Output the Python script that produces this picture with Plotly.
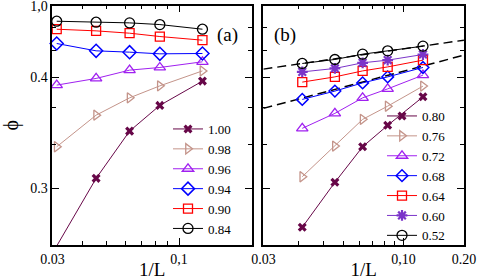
import math
import plotly.graph_objects as go

# ---------------- data ----------------
inv_L = [1/32, 1/22, 1/16, 1/12, 1/8]

left_labels = ["1.00", "0.98", "0.96", "0.94", "0.90", "0.84"]
left_values = [
    [0.2480, 0.3090, 0.3516, 0.3748, 0.3967],
    [0.3375, 0.3660, 0.3816, 0.3924, 0.4059],
    [0.3931, 0.3991, 0.4066, 0.4090, 0.4141],
    [0.4306, 0.4240, 0.4228, 0.4213, 0.4216],
    [0.4435, 0.4420, 0.4399, 0.4369, 0.4336],
    [0.4507, 0.4498, 0.4492, 0.4477, 0.4435],
]

right_labels = ["0.80", "0.76", "0.72", "0.68", "0.64", "0.60", "0.52"]
right_values = [
    [0.2649, 0.3054, 0.3375, 0.3568, 0.3825],
    [0.3105, 0.3381, 0.3622, 0.3741, 0.3922],
    [0.3541, 0.3676, 0.3816, 0.3897, 0.4021],
    [0.3802, 0.3877, 0.3951, 0.4005, 0.4090],
    [0.3958, 0.4005, 0.4059, 0.4095, 0.4156],
    [0.4050, 0.4081, 0.4132, 0.4156, 0.4207],
    [0.4126, 0.4162, 0.4210, 0.4240, 0.4282],
]

# dashed fit lines (right panel)
fit_x = [0.02, 0.2]
fit_upper = [0.4075, 0.4336]
fit_lower = [0.3721, 0.4201]

# axis ticks
y_major_vals = [0.4645, 0.4, 0.3]
y_major_text = ["1,0", "0.4", "0.3"]
y_minor_vals = [0.4450, 0.4240, 0.3726, 0.3396]
y_range = [0.2489, 0.4647]

xl_major_vals = [0.03, 0.1]
xl_major_text = ["0.03", "0,1"]
xl_minor_vals = [0.04, 0.05, 0.06, 0.07, 0.08, 0.09]
xl_range = [0.03, 0.2]

xr_major_vals = [0.02, 0.1, 0.2]
xr_major_text = ["0.03", "0,10", "0.20"]
xr_minor_vals = [0.03, 0.04, 0.05, 0.06, 0.07, 0.08, 0.09]
xr_range = [0.02, 0.2]

# ---------------- styles ----------------
MAROON = "#670748"
ROSY = "#c4948a"
VIOLET = "#a020f0"
BLUE = "#0000ff"
RED = "#ff0000"
BLACK = "#000000"
STAR = "#7b35c9"

left_styles = [
    (MAROON, "x", 8, 0),
    (ROSY, "triangle-right-open", 9, 1.3),
    (VIOLET, "triangle-up-open", 10, 1.3),
    (BLUE, "diamond-open", 10, 1.5),
    (RED, "square-open", 9, 1.3),
    (BLACK, "circle-open", 10, 1.3),
]
right_styles = [
    (MAROON, "x", 8, 0),
    (ROSY, "triangle-right-open", 9, 1.3),
    (VIOLET, "triangle-up-open", 10, 1.3),
    (BLUE, "diamond-open", 9, 1.5),
    (RED, "square-open", 9, 1.3),
    (STAR, "asterisk-open", 9, 2.2),
    (BLACK, "circle-open", 10, 1.3),
]

FONT = "Liberation Serif"
W, H = 480, 280

fig = go.Figure()

for lab, vals, (c, sym, sz, lw) in zip(left_labels, left_values, left_styles):
    fig.add_trace(go.Scatter(
        x=inv_L, y=vals, mode="lines+markers", name=lab,
        line=dict(color=c, width=1),
        marker=dict(symbol=sym, size=sz, color=c, line=dict(color=c, width=lw)),
        xaxis="x", yaxis="y", legend="legend", cliponaxis=False))

fig.add_trace(go.Scatter(x=fit_x, y=fit_upper, mode="lines", showlegend=False,
                         line=dict(color="black", width=1.5, dash="9px,5px"),
                         xaxis="x2", yaxis="y2"))
fig.add_trace(go.Scatter(x=fit_x, y=fit_lower, mode="lines", showlegend=False,
                         line=dict(color="black", width=1.5, dash="9px,5px"),
                         xaxis="x2", yaxis="y2"))

for lab, vals, (c, sym, sz, lw) in zip(right_labels, right_values, right_styles):
    fig.add_trace(go.Scatter(
        x=inv_L, y=vals, mode="lines+markers", name=lab,
        line=dict(color=c, width=1),
        marker=dict(symbol=sym, size=sz, color=c, line=dict(color=c, width=lw)),
        xaxis="x2", yaxis="y2", legend="legend2", cliponaxis=False))

ydom = [35 / H, 274.3 / H]
axis_common = dict(showline=True, linecolor="black", linewidth=1.5, mirror="allticks",
                   ticks="inside", ticklen=7, tickwidth=1.2, tickcolor="black",
                   showgrid=False, zeroline=False, automargin=False,
                   ticklabeloverflow="allow",
                   tickfont=dict(family=FONT, size=14, color="black"))

def lg(v):
    return [math.log10(v[0]) - 0.0005, math.log10(v[1]) + 0.0005]

minor_common = dict(ticks="inside", ticklen=4, tickcolor="black", tickwidth=1.2)

fig.update_layout(
    width=W, height=H, margin=dict(l=0, r=0, t=0, b=0, autoexpand=False),
    paper_bgcolor="white", plot_bgcolor="white",
    font=dict(family=FONT, color="black"),
    xaxis=dict(domain=[52.3 / W, 252 / W], type="log", range=lg(xl_range),
               tickmode="array", tickvals=xl_major_vals, ticktext=xl_major_text,
               minor=dict(tickvals=xl_minor_vals, **minor_common),
               title=dict(text="1/L", font=dict(family=FONT, size=19), standoff=0),
               anchor="y", **axis_common),
    yaxis=dict(domain=ydom, range=y_range, tickmode="array",
               tickvals=y_major_vals, ticktext=y_major_text,
               minor=dict(tickvals=y_minor_vals, **minor_common),
               title=dict(text="ϕ", font=dict(family=FONT, size=20), standoff=14),
               anchor="x", **axis_common),
    xaxis2=dict(domain=[263.3 / W, 464 / W], type="log", range=lg(xr_range),
                tickmode="array", tickvals=xr_major_vals, ticktext=xr_major_text,
                minor=dict(tickvals=xr_minor_vals, **minor_common),
                title=dict(text="1/L", font=dict(family=FONT, size=19), standoff=0),
                anchor="y2", **axis_common),
    yaxis2=dict(domain=ydom, range=y_range, tickmode="array",
                tickvals=y_major_vals, ticktext=y_major_text, showticklabels=False,
                minor=dict(tickvals=y_minor_vals, **minor_common),
                anchor="x2", **axis_common),
    legend=dict(x=168 / W, xanchor="left", y=36 / H, yanchor="bottom",
                bgcolor="rgba(0,0,0,0)", itemwidth=30, tracegroupgap=0,
                font=dict(family=FONT, size=13), borderwidth=0,
                itemclick=False),
    legend2=dict(x=382 / W, xanchor="left", y=29 / H, yanchor="bottom",
                 bgcolor="rgba(0,0,0,0)", itemwidth=30, tracegroupgap=0,
                 font=dict(family=FONT, size=13), borderwidth=0,
                 itemclick=False),
    annotations=[
        dict(text="(a)", x=227 / W, y=1 - 35 / H, xref="paper", yref="paper",
             xanchor="center", yanchor="middle",
             showarrow=False, font=dict(family=FONT, size=19)),
        dict(text="(b)", x=285 / W, y=1 - 35 / H, xref="paper", yref="paper",
             xanchor="center", yanchor="middle",
             showarrow=False, font=dict(family=FONT, size=19)),
    ],
)

fig.write_html("out.html",
               config={"displayModeBar": False},
               post_script="document.body.style.margin='0px';document.body.style.overflow='hidden';")
